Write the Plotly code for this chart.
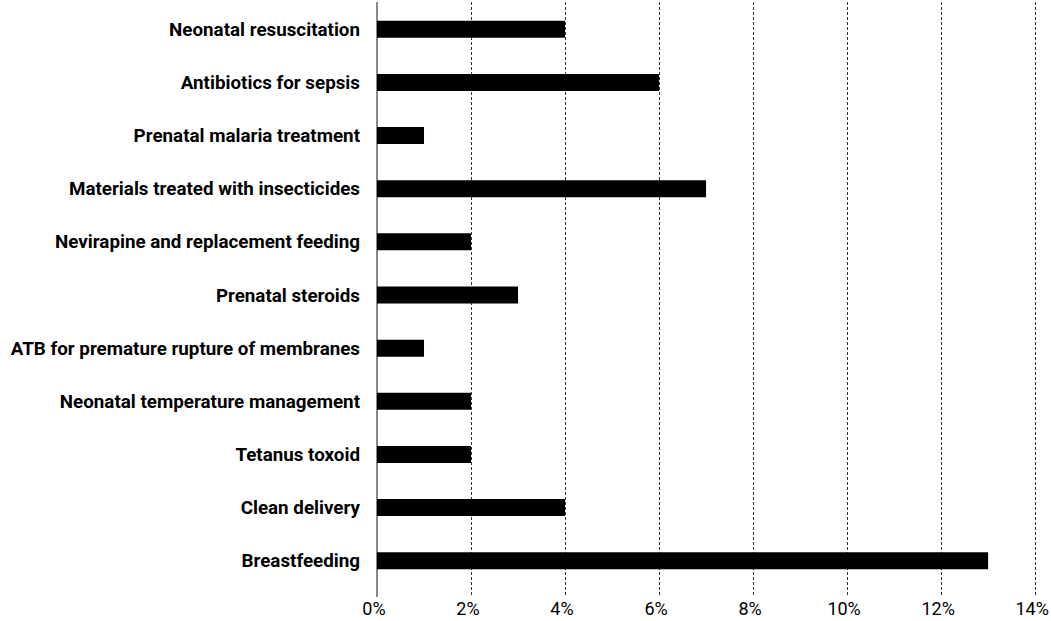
import plotly.graph_objects as go

categories = [
    "Neonatal resuscitation",
    "Antibiotics for sepsis",
    "Prenatal malaria treatment",
    "Materials treated with insecticides",
    "Nevirapine and replacement feeding",
    "Prenatal steroids",
    "ATB for premature rupture of membranes",
    "Neonatal temperature management",
    "Tetanus toxoid",
    "Clean delivery",
    "Breastfeeding",
]
values = [4, 6, 1, 7, 2, 3, 1, 2, 2, 4, 13]
tick_vals = [0, 2, 4, 6, 8, 10, 12, 14]
tick_text = ["0%", "2%", "4%", "6%", "8%", "10%", "12%", "14%"]

# plot bottom-to-top
cats_rev = categories[::-1]
vals_rev = values[::-1]

FONT = "Roboto, Liberation Sans, Arial, sans-serif"

fig = go.Figure(
    go.Bar(
        x=vals_rev,
        y=cats_rev,
        orientation="h",
        marker=dict(color="black", line=dict(width=0)),
        width=0.32,
        hoverinfo="x+y",
    )
)

fig.update_layout(
    width=1051,
    height=621,
    margin=dict(l=377, r=14, t=2, b=24, autoexpand=False),
    paper_bgcolor="white",
    plot_bgcolor="white",
    showlegend=False,
    font=dict(family=FONT, size=18, color="black"),
)

fig.update_xaxes(
    range=[0, 14.04],
    tickvals=tick_vals,
    ticktext=tick_text,
    showgrid=True,
    gridcolor="#333333",
    griddash="3px,2px",
    gridwidth=1,
    zeroline=True,
    zerolinecolor="#888888",
    zerolinewidth=2,
    showline=False,
    ticks="",
    ticklabelstandoff=-1,
    ticklabelshift=-3,
    ticklabeloverflow="allow",
    automargin=False,
    tickfont=dict(family=FONT, size=18, color="black"),
    fixedrange=True,
)

fig.update_yaxes(
    type="category",
    range=[-0.683, 10.514],
    showgrid=False,
    zeroline=False,
    showline=False,
    ticks="",
    ticklabelstandoff=16,
    automargin=False,
    tickfont=dict(family=FONT, size=18.8, color="black", weight="bold"),
    fixedrange=True,
)

fig.write_html(
    "out.html",
    config={"displayModeBar": False},
    post_script="document.body.style.margin='0';document.body.style.overflow='hidden';",
)
